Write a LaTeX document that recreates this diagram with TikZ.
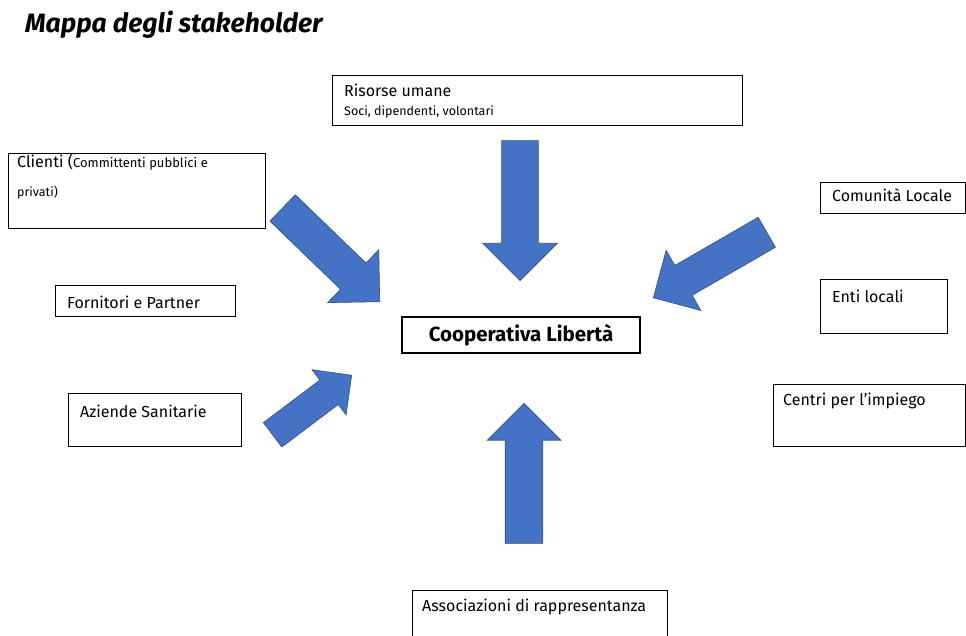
\documentclass[tikz,border=0pt]{standalone}
\usepackage{fontspec}
\setmainfont{Fira Sans}
\usetikzlibrary{shapes.arrows,positioning}

\definecolor{arrowblue}{HTML}{4472C4}
\definecolor{arrowline}{HTML}{2F528F}

\begin{document}
\begin{tikzpicture}[x=1pt,y=-1pt]
\tikzstyle{stakebox} = [rectangle, draw=black, line width=0.9pt, inner sep=0pt]
\tikzstyle{boxtext} = [anchor=base west, inner sep=0pt, font=\fontsize{16}{19}\selectfont]
\tikzstyle{smalltext} = [anchor=base west, inner sep=0pt, font=\fontsize{12.5}{15}\selectfont]
\tikzstyle{bigarrow} = [single arrow, draw=arrowline, fill=arrowblue, line width=0.6pt,
inner xsep=0pt, single arrow head indent=0pt, anchor=tip]
\useasboundingbox (0,0) rectangle (966,636);

% title
\node [anchor=base west, inner sep=0pt, font=\fontsize{26.5}{30}\selectfont\itshape\bfseries]
  (title) at (25,33) {Mappa degli stakeholder};

% top
\node [stakebox, minimum width=410, minimum height=50] (risorse) at (537,100) {};
\node [boxtext] (risorsetxt) at (344,97) {Risorse umane};
\node [smalltext] (risorsesub) at (344,116) {Soci, dipendenti, volontari};

% left column
\node [stakebox, minimum width=257, minimum height=75] (clienti) at (136.5,190.5) {};
\node [boxtext] (clientitxt) at (17,168) {Clienti ({\fontsize{13}{15}\selectfont Committenti pubblici e}};
\node [smalltext] (clientisub) at (17,197) {privati)};
\node [stakebox, minimum width=180, minimum height=31] (fornitori) at (145,300.5) {};
\node [boxtext] (fornitoritxt) at (67,308) {Fornitori e Partner};
\node [stakebox, minimum width=173, minimum height=53] (aziende) at (154.5,419.5) {};
\node [boxtext] (aziendetxt) at (80,417) {Aziende Sanitarie};

% right column
\node [stakebox, minimum width=145, minimum height=31] (comunita) at (892.5,197.5) {};
\node [boxtext] (comunitatxt) at (832,202) {Comunità Locale};
\node [stakebox, minimum width=127, minimum height=54] (enti) at (883.5,306) {};
\node [boxtext] (entitxt) at (832,302) {Enti locali};
\node [stakebox, minimum width=192, minimum height=62] (centri) at (869,415) {};
\node [boxtext] (centritxt) at (783,405) {Centri per l’impiego};

% centre
\node [stakebox, line width=1.5pt, minimum width=238, minimum height=36,
  font=\fontsize{20.5}{24}\selectfont\bfseries] (coop) at (521,335) {Cooperativa Libertà};

% bottom
\node [stakebox, minimum width=255, minimum height=70] (assoc) at (539.5,625) {};
\node [boxtext] (assoctxt) at (422,611) {Associazioni di rappresentanza};

% arrows
\node [bigarrow, inner ysep=18pt, single arrow head extend=19pt, minimum height=140,
  rotate=-90] (arrrisorse) at (520,281) {};
\node [bigarrow, inner ysep=18.5pt, single arrow head extend=18pt, minimum height=140,
  rotate=90] (arrassoc) at (524,403) {};
\node [bigarrow, inner ysep=18pt, single arrow head extend=18.5pt, minimum height=135,
  rotate=-44] (arrclienti) at (380,302) {};
\node [bigarrow, inner ysep=15pt, single arrow head extend=13pt, minimum height=99,
  rotate=37] (arraziende) at (352,375) {};
\node [bigarrow, inner ysep=17pt, single arrow head extend=17.5pt, minimum height=131,
  rotate=210] (arrcomunita) at (653,298) {};

\end{tikzpicture}
\end{document}
